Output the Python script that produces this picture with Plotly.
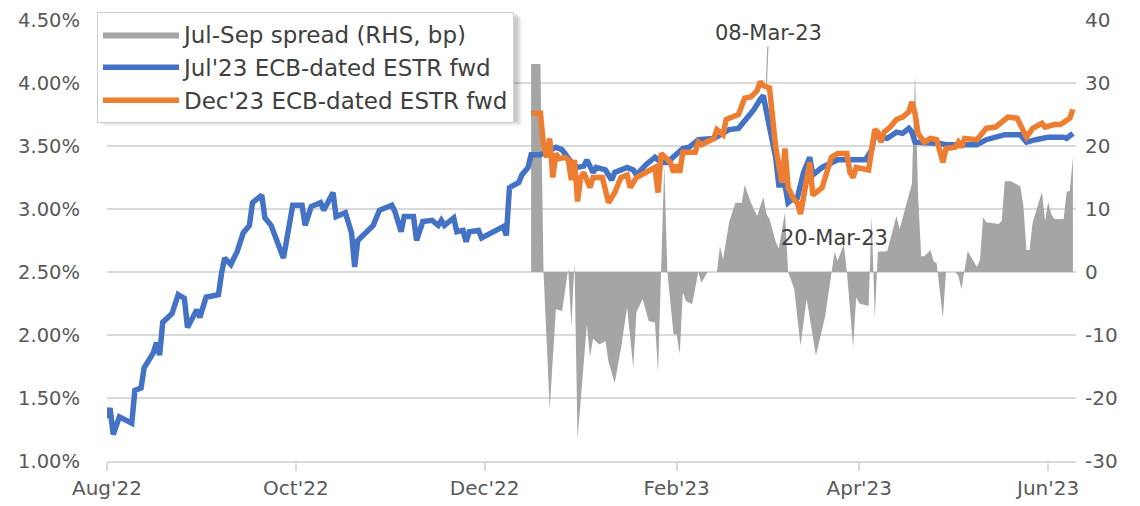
import plotly.graph_objects as go

# ---------------- data ----------------
jul_dates = [
    "2022-08-01","2022-08-02","2022-08-03","2022-08-05","2022-08-09","2022-08-10","2022-08-12","2022-08-13",
    "2022-08-16","2022-08-17","2022-08-18","2022-08-19","2022-08-22","2022-08-24","2022-08-26","2022-08-27",
    "2022-08-30","2022-08-31","2022-09-02","2022-09-06","2022-09-07","2022-09-08","2022-09-10","2022-09-12",
    "2022-09-14","2022-09-16","2022-09-17","2022-09-20","2022-09-21","2022-09-23","2022-09-27","2022-09-30",
    "2022-10-03","2022-10-04","2022-10-06","2022-10-09","2022-10-10","2022-10-13","2022-10-14","2022-10-17",
    "2022-10-19","2022-10-20","2022-10-21","2022-10-24","2022-10-26","2022-10-28","2022-11-01","2022-11-02",
    "2022-11-04","2022-11-05","2022-11-08","2022-11-09","2022-11-11","2022-11-14","2022-11-16","2022-11-17",
    "2022-11-18","2022-11-21","2022-11-22","2022-11-24","2022-11-25","2022-11-26","2022-11-29","2022-11-30",
    "2022-12-05","2022-12-07","2022-12-08","2022-12-09","2022-12-12","2022-12-13","2022-12-15","2022-12-16",
    "2022-12-19","2022-12-21","2022-12-24","2022-12-26","2022-12-27","2022-12-29","2022-12-31","2023-01-02",
    "2023-01-03","2023-01-05","2023-01-06","2023-01-09","2023-01-11","2023-01-12","2023-01-16","2023-01-18",
    "2023-01-19","2023-01-22","2023-01-25","2023-01-27","2023-01-29","2023-01-31","2023-02-03","2023-02-05",
    "2023-02-08","2023-02-13","2023-02-16","2023-02-18","2023-02-21","2023-02-24","2023-02-26","2023-02-28",
    "2023-03-01","2023-03-03","2023-03-05","2023-03-06","2023-03-08","2023-03-09","2023-03-10","2023-03-12",
    "2023-03-14","2023-03-16","2023-03-17","2023-03-20","2023-03-22","2023-03-25","2023-03-30","2023-04-03",
    "2023-04-05","2023-04-06","2023-04-08","2023-04-10","2023-04-13","2023-04-15","2023-04-17","2023-04-18",
    "2023-04-19","2023-04-21","2023-04-27","2023-04-29","2023-05-09","2023-05-12","2023-05-18","2023-05-23",
    "2023-05-25","2023-05-28","2023-06-01","2023-06-06","2023-06-07","2023-06-09",
]
jul_fwd = [
    1.34,1.42,1.21,1.35,1.30,1.56,1.58,1.74,
    1.86,1.94,1.84,2.10,2.17,2.32,2.29,2.06,
    2.20,2.14,2.30,2.32,2.49,2.61,2.56,2.66,
    2.81,2.87,3.05,3.11,2.93,2.87,2.61,3.03,
    3.03,2.87,3.02,3.05,2.99,3.13,2.94,2.97,
    2.81,2.54,2.75,2.82,2.87,2.99,3.03,2.98,
    2.82,2.94,2.94,2.75,2.90,2.91,2.87,2.91,
    2.87,2.93,2.82,2.83,2.74,2.82,2.83,2.77,
    2.83,2.86,2.79,3.17,3.21,3.27,3.33,3.43,
    3.43,3.45,3.49,3.47,3.44,3.37,3.33,3.34,
    3.39,3.29,3.33,3.31,3.23,3.29,3.33,3.31,
    3.27,3.35,3.41,3.37,3.37,3.41,3.48,3.49,
    3.55,3.56,3.60,3.63,3.64,3.73,3.79,3.87,
    3.90,3.65,3.41,3.19,3.19,3.05,3.07,3.09,
    3.29,3.41,3.27,3.33,3.35,3.39,3.39,3.39,
    3.47,3.59,3.57,3.56,3.61,3.60,3.64,3.61,
    3.53,3.53,3.52,3.51,3.51,3.55,3.59,3.59,
    3.53,3.55,3.57,3.57,3.56,3.60,
]

dec_dates = [
    "2022-12-16","2022-12-19","2022-12-20","2022-12-21","2022-12-22","2022-12-23","2022-12-24","2022-12-25",
    "2022-12-27","2022-12-28","2022-12-29","2022-12-30","2022-12-31","2023-01-01","2023-01-02","2023-01-04",
    "2023-01-05","2023-01-08","2023-01-10","2023-01-12","2023-01-14","2023-01-16","2023-01-17","2023-01-19",
    "2023-01-22","2023-01-25","2023-01-26","2023-01-27","2023-01-30","2023-01-31","2023-02-01","2023-02-02",
    "2023-02-03","2023-02-07","2023-02-08","2023-02-09","2023-02-13","2023-02-14","2023-02-16","2023-02-17",
    "2023-02-21","2023-02-23","2023-02-25","2023-02-27","2023-02-28","2023-03-01","2023-03-03","2023-03-04",
    "2023-03-05","2023-03-07","2023-03-08","2023-03-09","2023-03-11","2023-03-12","2023-03-13","2023-03-15",
    "2023-03-16","2023-03-17","2023-03-20","2023-03-21","2023-03-23","2023-03-25","2023-03-28","2023-03-29",
    "2023-03-30","2023-03-31","2023-04-04","2023-04-06","2023-04-07","2023-04-08","2023-04-09","2023-04-11",
    "2023-04-13","2023-04-15","2023-04-17","2023-04-18","2023-04-19","2023-04-20","2023-04-22","2023-04-24",
    "2023-04-26","2023-04-28","2023-04-29","2023-05-02","2023-05-03","2023-05-04","2023-05-05","2023-05-09",
    "2023-05-12","2023-05-15","2023-05-19","2023-05-22","2023-05-25","2023-05-27","2023-05-30","2023-05-31",
    "2023-06-03","2023-06-05","2023-06-07","2023-06-08","2023-06-09",
]
dec_fwd = [
    3.76,3.76,3.51,3.41,3.56,3.25,3.44,3.40,
    3.41,3.39,3.23,3.39,3.06,3.25,3.29,3.17,
    3.25,3.25,3.05,3.13,3.25,3.27,3.17,3.25,
    3.29,3.33,3.13,3.44,3.37,3.29,3.35,3.29,
    3.45,3.45,3.53,3.51,3.56,3.63,3.59,3.71,
    3.75,3.88,3.89,3.94,4.01,3.98,3.96,3.73,
    3.49,3.21,3.48,3.17,3.07,3.05,2.96,3.23,
    3.37,3.11,3.17,3.25,3.41,3.44,3.44,3.29,
    3.25,3.33,3.31,3.63,3.61,3.53,3.61,3.65,
    3.71,3.73,3.77,3.85,3.76,3.60,3.53,3.56,
    3.55,3.37,3.48,3.49,3.53,3.49,3.56,3.55,
    3.64,3.65,3.73,3.72,3.57,3.64,3.68,3.65,
    3.67,3.67,3.71,3.72,3.79,
]

spread_dates = [
    "2022-12-16","2022-12-19","2022-12-20","2022-12-21","2022-12-22","2022-12-24","2022-12-26","2022-12-28",
    "2022-12-29","2022-12-30","2022-12-31","2023-01-03","2023-01-04","2023-01-05","2023-01-07","2023-01-09",
    "2023-01-10","2023-01-12","2023-01-14","2023-01-16","2023-01-18","2023-01-19","2023-01-21","2023-01-23",
    "2023-01-25","2023-01-26","2023-01-27","2023-01-28","2023-01-29","2023-01-31","2023-02-01","2023-02-02",
    "2023-02-03","2023-02-04","2023-02-06","2023-02-08","2023-02-09","2023-02-11","2023-02-14","2023-02-15",
    "2023-02-16","2023-02-18","2023-02-20","2023-02-22","2023-02-23","2023-02-25","2023-02-27","2023-03-01",
    "2023-03-02","2023-03-03","2023-03-05","2023-03-06","2023-03-08","2023-03-09","2023-03-11","2023-03-13",
    "2023-03-15","2023-03-18","2023-03-21","2023-03-23","2023-03-24","2023-03-25","2023-03-27","2023-03-28",
    "2023-03-30","2023-03-31","2023-04-01","2023-04-04","2023-04-05","2023-04-06","2023-04-07","2023-04-10",
    "2023-04-13","2023-04-14","2023-04-17","2023-04-18","2023-04-19","2023-04-20","2023-04-21","2023-04-22",
    "2023-04-24","2023-04-25","2023-04-26","2023-04-28","2023-04-29","2023-05-02","2023-05-03","2023-05-04",
    "2023-05-06","2023-05-09","2023-05-10","2023-05-11","2023-05-12","2023-05-16","2023-05-17","2023-05-18",
    "2023-05-20","2023-05-23","2023-05-24","2023-05-25","2023-05-26","2023-05-27","2023-05-30","2023-05-31",
    "2023-06-01","2023-06-02","2023-06-03","2023-06-06","2023-06-07","2023-06-08","2023-06-09",
]
spread_bp = [
    33,33,0,-10,-21.7,-5.9,-6.2,0.6,
    -8.6,1.6,-26.5,-8.3,-13.5,-10.6,-11.5,-11,
    -14.3,-17.6,-12.2,-5.6,-15.2,-6.4,-4.3,-7.8,
    -8,-15.9,0,17,0,-9.9,-9.9,-13,
    -3.2,-4.6,-5.1,0,-1.7,0,0,4.1,
    2,8,11,11,13.8,11,8.9,11.9,
    9.2,8.4,4.8,3.7,9.5,0,-2.7,-11.7,
    -4.3,-13.3,-7,0,3.2,1.8,4.4,0,
    -11.9,-4,-5,-5.4,8.9,-7.3,3.2,3.3,
    8.9,6.8,12.4,14,31.4,12,2.5,2.5,
    3.5,1.7,1.4,-7.3,0,0,-0.6,-2.7,
    3.3,0.8,2,8.7,7.9,7.6,8.1,14.4,
    14.4,13.6,10.5,3.5,3.5,7.9,12.7,8.1,
    11.1,9.2,8.4,8.4,12.7,12.9,18.3,
]

x_tick_dates = ["2022-08-01","2022-10-01","2022-12-01","2023-02-01","2023-04-01","2023-06-01"]
x_tick_labels = ["Aug'22","Oct'22","Dec'22","Feb'23","Apr'23","Jun'23"]
rate_ticks = [1.0,1.5,2.0,2.5,3.0,3.5,4.0,4.5]
rate_tick_labels = ["1.00%","1.50%","2.00%","2.50%","3.00%","3.50%","4.00%","4.50%"]
bp_ticks = [-30,-20,-10,0,10,20,30,40]
bp_tick_labels = ["-30","-20","-10","0","10","20","30","40"]

names = ["Jul-Sep spread (RHS, bp)", "Jul'23 ECB-dated ESTR fwd", "Dec'23 ECB-dated ESTR fwd"]
ann_peak = ("2023-03-02", 4.00, "08-Mar-23")
ann_trough = ("2023-03-24", 2.77, "20-Mar-23")

# ---------------- figure ----------------
FONT = "DejaVu Sans"
TICKC = "#595959"
GRID = "#D9D9D9"

# the page body adds an 8px offset; plot area target: x 107..1076, y 20..461 in the screenshot
OFF = 8
PL, PR, PT, PB = 107 - OFF, 1076 - OFF, 20 - OFF, 461 - OFF
W, H = 1140, 506
PW, PH = PR - PL, PB - PT

fig = go.Figure()
fig.add_trace(go.Scatter(
    x=spread_dates, y=spread_bp, name=names[0], yaxis="y",
    mode="lines", line=dict(width=0, color="#A5A5A5"),
    fill="tozeroy", fillcolor="#A5A5A5",
))
fig.add_trace(go.Scatter(
    x=jul_dates, y=jul_fwd, name=names[1], yaxis="y2",
    mode="lines", line=dict(width=5.5, color="#4472C4"),
))
fig.add_trace(go.Scatter(
    x=dec_dates, y=dec_fwd, name=names[2], yaxis="y2",
    mode="lines", line=dict(width=5.5, color="#ED7D31"),
))

def px_to_paper_x(px):
    return (px - OFF - PL) / PW

def px_to_paper_y(py):
    return (PB - (py - OFF)) / PH

# legend box target in screenshot px: x 97..518, y 12..~118
def shadow(d, alpha):
    return dict(type="rect", xref="paper", yref="paper",
                x0=px_to_paper_x(97 + d), x1=px_to_paper_x(516 + d),
                y0=px_to_paper_y(120 + d), y1=px_to_paper_y(12 + d),
                fillcolor=f"rgba(0,0,0,{alpha})", line=dict(width=0), layer="above")

fig.update_layout(
    width=W, height=H,
    margin=dict(l=PL, r=W - PR, t=PT, b=H - PB, autoexpand=False),
    paper_bgcolor="white", plot_bgcolor="white",
    font=dict(family=FONT, size=20, color=TICKC),
    showlegend=True,
    legend=dict(
        x=px_to_paper_x(97), y=px_to_paper_y(12), xanchor="left", yanchor="top",
        bgcolor="white", bordercolor="#D0D0D0", borderwidth=1,
        font=dict(family=FONT, size=23, color="#404040"),
        itemwidth=76, tracegroupgap=0,
    ),
    xaxis=dict(
        type="date", range=["2022-08-01", "2023-06-10"],
        tickvals=x_tick_dates, ticktext=x_tick_labels,
        showgrid=False, zeroline=False, automargin=False,
        showline=True, linecolor=GRID, linewidth=1.5,
        ticks="outside", ticklen=8, tickcolor=GRID, tickwidth=1.5,
        tickfont=dict(family=FONT, size=20, color=TICKC),
    ),
    yaxis=dict(
        side="right", range=[-30, 40], automargin=False,
        tickvals=bp_ticks, ticktext=bp_tick_labels,
        showgrid=True, gridcolor=GRID, gridwidth=1.5, zeroline=False,
        showline=False, ticks="", ticklabelstandoff=8,
        tickfont=dict(family=FONT, size=20, color=TICKC),
    ),
    yaxis2=dict(
        overlaying="y", side="left", range=[1.0, 4.5], automargin=False,
        tickvals=rate_ticks, ticktext=rate_tick_labels,
        showgrid=False, zeroline=False, showline=False, ticks="",
        ticklabelstandoff=26,
        tickfont=dict(family=FONT, size=19.5, color=TICKC),
    ),
    annotations=[
        dict(x=ann_peak[0], y=ann_peak[1], xref="x", yref="y2", text=ann_peak[2],
             showarrow=True, arrowhead=0, arrowwidth=1.2, arrowcolor="#A5A5A5",
             ax=2, ay=-50, font=dict(family=FONT, size=21, color="#404040")),
        dict(x=ann_trough[0], y=ann_trough[1], xref="x", yref="y2", text=ann_trough[2],
             showarrow=False, font=dict(family=FONT, size=21, color="#404040")),
    ],
    shapes=[shadow(6, 0.05), shadow(4, 0.07), shadow(2, 0.09)],
)

fig.write_html("out.html")
